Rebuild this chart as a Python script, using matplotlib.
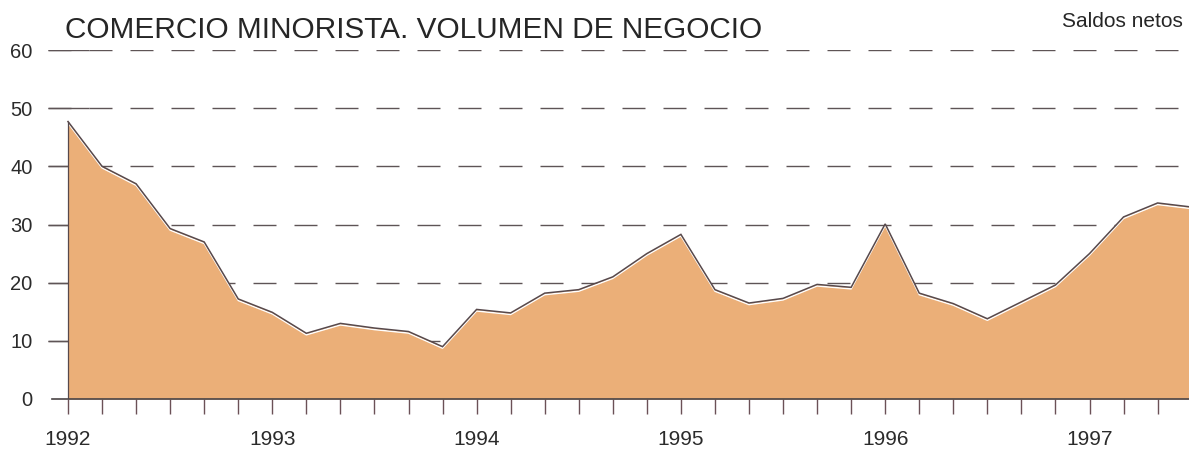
import matplotlib
matplotlib.use("Agg")
import matplotlib.pyplot as plt
from matplotlib.transforms import ScaledTranslation
import numpy as np

# Bimonthly observations starting January 1992
values = [47.7, 40.0, 37.0, 29.3, 27.0, 17.2,
          14.9, 11.3, 13.0, 12.2, 11.6, 9.0,
          15.4, 14.8, 18.2, 18.8, 21.0, 25.0,
          28.3, 18.8, 16.5, 17.3, 19.7, 19.2,
          30.1, 18.2, 16.4, 13.8, 16.7, 19.6,
          25.0, 31.3, 33.7, 33.0]
year_labels = ["1992", "1993", "1994", "1995", "1996", "1997"]
y_ticks = [0, 10, 20, 30, 40, 50, 60]
title = "COMERCIO MINORISTA. VOLUMEN DE NEGOCIO"
subtitle = "Saldos netos"

plt.rcParams['font.family'] = ['Liberation Sans', 'DejaVu Sans']

W, H = 1189, 450
fig = plt.figure(figsize=(W / 100, H / 100), dpi=100)
fig.patch.set_facecolor('white')

left_px, right_px = 48, 1189
bottom_px, top_px = 399, 50
ax = fig.add_axes([left_px / W, 1 - bottom_px / H,
                   (right_px - left_px) / W, (bottom_px - top_px) / H])

x = np.arange(len(values))
px_per_idx = 34.05
x_left = 0 - (68 - left_px) / px_per_idx
x_right = x_left + (right_px - left_px) / px_per_idx
ax.set_xlim(x_left, x_right)
ax.set_ylim(0, 60)

grid_col = '#5e5456'
pt = 72 / 100  # points per pixel
for yv in y_ticks[1:]:
    ax.plot([x_left, x_right], [yv, yv], color=grid_col, lw=1.0,
            dashes=(23 * pt, 18 * pt), zorder=1)
    ax.plot([x_left, x_left + 41 / px_per_idx], [yv, yv], color=grid_col,
            lw=1.0, zorder=1, solid_capstyle='butt')
ax.plot([x_left + 4 / px_per_idx, x_right], [0, 0], color='#4a4446', lw=1.2,
        zorder=4, clip_on=False)

fill_col = '#EBAF78'
ax.fill_between(x, values, 0, color=fill_col, lw=0, zorder=2)
# white highlight under the outline
off = ScaledTranslation(0, -1.6 / 100, fig.dpi_scale_trans)
ax.plot(x, values, color='white', lw=1.0, zorder=3, transform=ax.transData + off)
ax.plot(x, values, color='#57494c', lw=1.1, zorder=3.5, solid_joinstyle='miter')
ax.plot([0, 0], [0, values[0]], color='#57494c', lw=0.9, zorder=3.5)

for s in ax.spines.values():
    s.set_visible(False)

ax.set_xticks(np.arange(0, 33))
ax.set_xticklabels([year_labels[i // 6] if i % 6 == 0 else '' for i in range(33)])
ax.tick_params(axis='x', direction='out', length=11, width=1.0, color='#6b5157',
               pad=11, labelsize=15, labelcolor='#2b2b2b')
ax.set_yticks(y_ticks)
ax.set_yticklabels([str(v) for v in y_ticks])
ax.tick_params(axis='y', length=0, pad=11, labelsize=14.5, labelcolor='#2b2b2b')

fig.text(65 / W, 1 - 38 / H, title, fontsize=21.4, color='#262626', va='baseline', ha='left')
fig.text(1183 / W, 1 - 27 / H, subtitle, fontsize=15, color='#262626', va='baseline', ha='right')

fig.savefig('out.png', dpi=100)
